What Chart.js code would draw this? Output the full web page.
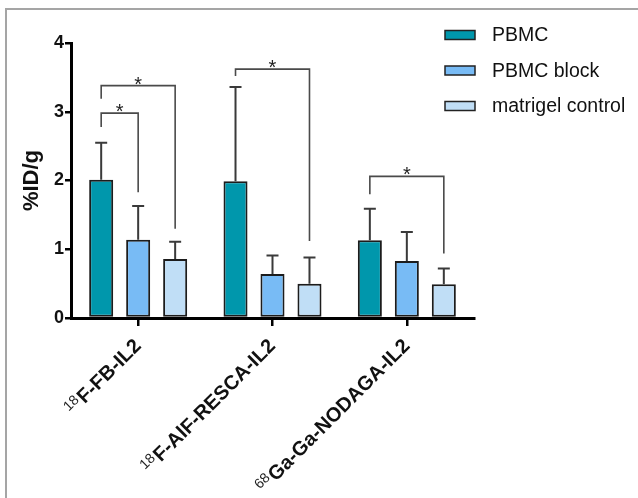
<!DOCTYPE html>
<html>
<head>
<meta charset="utf-8">
<script src="https://cdn.jsdelivr.net/npm/chart.js@4.4.1/dist/chart.umd.min.js"></script>
<style>
  html, body { margin: 0; padding: 0; background: #fff; }
  #wrap { position: relative; width: 638px; height: 498px; overflow: hidden; }
  #frame { position: absolute; left: 5px; top: 8px; right: -4px; bottom: -4px; border-left: 2px solid #a5a5a5; border-top: 2px solid #a5a5a5; }
  canvas { position: absolute; left: 0; top: 0; }
</style>
</head>
<body>
<div id="wrap">
  <div id="frame"></div>
  <canvas id="chart" width="638" height="498"></canvas>
</div>
<script>
// data (mean, SD)
const isotopes = ['18', '18', '68'];
const tracers = ['F-FB-IL2', 'F-AlF-RESCA-IL2', 'Ga-Ga-NODAGA-IL2'];
const seriesNames = ['PBMC', 'PBMC block', 'matrigel control'];
const pbmcMean = [2.01, 1.99, 1.13];
const pbmcSD = [0.54, 1.37, 0.46];
const blockMean = [1.14, 0.64, 0.83];
const blockSD = [0.49, 0.27, 0.42];
const matrigelMean = [0.86, 0.50, 0.49];
const matrigelSD = [0.25, 0.38, 0.23];
const yMin = 0, yMax = 4, yStep = 1;

// significance brackets (values in %ID/g)
const brackets = [
    { cat: 0, from: 0, to: 1, top: 2.98, leftEnd: 2.78, rightEnd: 1.83, mark: '*' },
    { cat: 0, from: 0, to: 2, top: 3.38, leftEnd: 3.19, rightEnd: 1.30, mark: '*' },
    { cat: 1, from: 0, to: 2, top: 3.62, leftEnd: 3.52, rightEnd: 1.12, mark: '*' },
    { cat: 2, from: 0, to: 2, top: 2.06, leftEnd: 1.80, rightEnd: 0.94, mark: '*' }
];

const FONT = '"Liberation Sans", Arial, Helvetica, sans-serif';
Chart.defaults.font.family = FONT;

const errors = [pbmcSD, blockSD, matrigelSD];

// Error bars (upper only, like the original)
const errorBars = {
    id: 'errorBars',
    afterDatasetsDraw(chart) {
        const ctx = chart.ctx;
        const y = chart.scales.y;
        ctx.save();
        ctx.strokeStyle = '#3a3a3a';
        ctx.lineWidth = 2;
        chart.data.datasets.forEach((ds, i) => {
            chart.getDatasetMeta(i).data.forEach((bar, j) => {
                const top = y.getPixelForValue(ds.data[j] + errors[i][j]);
                ctx.beginPath();
                ctx.moveTo(bar.x, bar.y);
                ctx.lineTo(bar.x, top);
                ctx.moveTo(bar.x - 6, top);
                ctx.lineTo(bar.x + 6, top);
                ctx.stroke();
            });
        });
        ctx.restore();
    }
};

// Significance brackets
const sigBrackets = {
    id: 'sigBrackets',
    afterDatasetsDraw(chart) {
        const ctx = chart.ctx;
        const y = chart.scales.y;
        ctx.save();
        ctx.strokeStyle = '#4a4a4a';
        ctx.lineWidth = 1.6;
        brackets.forEach(b => {
            const x1 = chart.getDatasetMeta(b.from).data[b.cat].x;
            const x2 = chart.getDatasetMeta(b.to).data[b.cat].x;
            const yt = y.getPixelForValue(b.top);
            ctx.beginPath();
            ctx.moveTo(x1, y.getPixelForValue(b.leftEnd));
            ctx.lineTo(x1, yt);
            ctx.lineTo(x2, yt);
            ctx.lineTo(x2, y.getPixelForValue(b.rightEnd));
            ctx.stroke();
            ctx.fillStyle = '#222';
            ctx.font = '20px ' + FONT;
            ctx.textAlign = 'center';
            ctx.textBaseline = 'alphabetic';
            ctx.fillText(b.mark, (x1 + x2) / 2, yt + 5);
        });
        ctx.restore();
    }
};

// Rotated category labels with superscript mass numbers
const tracerLabels = {
    id: 'tracerLabels',
    afterDraw(chart) {
        const ctx = chart.ctx;
        const xs = chart.scales.x;
        const bottom = chart.chartArea.bottom;
        tracers.forEach((name, i) => {
            const x = xs.getPixelForValue(i);
            ctx.save();
            ctx.translate(x - 1, bottom + 24);
            ctx.rotate(-Math.PI / 4);
            ctx.textAlign = 'right';
            ctx.textBaseline = 'alphabetic';
            ctx.fillStyle = '#111';
            ctx.font = 'bold 20px ' + FONT;
            ctx.fillText(name, 0, 7);
            const w = ctx.measureText(name).width;
            ctx.font = '14px ' + FONT;
            ctx.fillStyle = '#222';
            ctx.fillText(isotopes[i], -w - 1, 1);
            ctx.restore();
        });
    }
};

// Legend at the upper right
const sideLegend = {
    id: 'sideLegend',
    afterDraw(chart) {
        const ctx = chart.ctx;
        ctx.save();
        chart.data.datasets.forEach((ds, i) => {
            const cy = 35 + i * 35.5;
            ctx.fillStyle = ds.backgroundColor;
            ctx.fillRect(445, cy - 4.5, 30, 9);
            ctx.strokeStyle = '#222';
            ctx.lineWidth = 1.5;
            ctx.strokeRect(445, cy - 4.5, 30, 9);
            ctx.fillStyle = '#111';
            ctx.font = '19.5px ' + FONT;
            ctx.textAlign = 'left';
            ctx.textBaseline = 'middle';
            ctx.fillText(ds.label, 492, cy + 1);
        });
        ctx.restore();
    }
};

new Chart(document.getElementById('chart'), {
    type: 'bar',
    data: {
        labels: tracers,
        datasets: [
            { label: seriesNames[0], data: pbmcMean, backgroundColor: '#0097ac' },
            { label: seriesNames[1], data: blockMean, backgroundColor: '#78bbf5' },
            { label: seriesNames[2], data: matrigelMean, backgroundColor: '#c0def6' }
        ]
    },
    options: {
        responsive: false,
        animation: false,
        layout: { padding: { left: 19, top: 43, right: 164, bottom: 0 } },
        plugins: {
            legend: { display: false },
            tooltip: { enabled: false }
        },
        datasets: {
            bar: {
                categoryPercentage: 0.826,
                barPercentage: 0.65,
                borderWidth: 2,
                borderColor: '#1c1c1c',
                borderSkipped: false
            }
        },
        scales: {
            x: {
                offset: true,
                grid: {
                    offset: false,
                    drawOnChartArea: false,
                    drawTicks: true,
                    tickLength: 8,
                    color: '#000',
                    lineWidth: 2.5
                },
                border: { display: true, color: '#000', width: 3 },
                ticks: { display: false },
                afterFit(scale) { scale.height = 180; }
            },
            y: {
                min: yMin,
                max: yMax,
                ticks: {
                    stepSize: yStep,
                    color: '#111',
                    padding: 1,
                    font: { size: 18, weight: 'bold' }
                },
                grid: {
                    drawOnChartArea: false,
                    drawTicks: true,
                    tickLength: 6,
                    color: '#000',
                    lineWidth: 2.5
                },
                border: { color: '#000', width: 3 },
                title: {
                    display: true,
                    text: '%ID/g',
                    color: '#111',
                    padding: 0,
                    font: { size: 22, weight: 'bold' }
                },
                afterFit(scale) { scale.width = 52; }
            }
        }
    },
    plugins: [errorBars, sigBrackets, tracerLabels, sideLegend]
});
</script>
</body>
</html>
